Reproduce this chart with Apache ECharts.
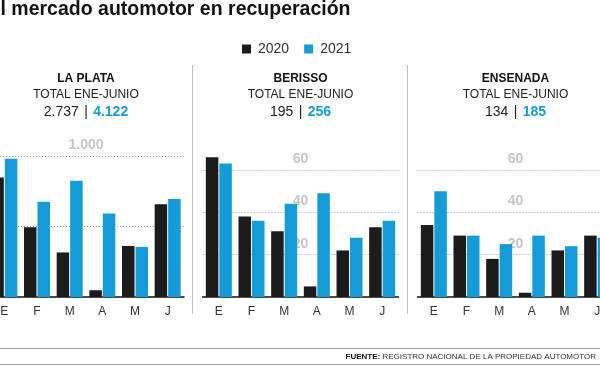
<!DOCTYPE html>
<html>
<head>
<meta charset="utf-8">
<script src="https://cdn.jsdelivr.net/npm/echarts@6/dist/echarts.min.js"></script>
<style>
html,body{margin:0;padding:0;background:#fff;}
#chart{width:600px;height:365px;}
</style>
</head>
<body>
<div id="chart"></div>
<script>
// ---- data ----
var months = ['E', 'F', 'M', 'A', 'M', 'J'];
var panelNames = ['LA PLATA', 'BERISSO', 'ENSENADA'];
var totals2020 = ['2.737', '195', '134'];
var totals2021 = ['4.122', '256', '185'];
var laPlata2020 = [848, 495, 316, 48, 362, 657];
var laPlata2021 = [981, 676, 824, 593, 355, 695];
var berisso2020 = [66, 38, 31, 5, 22, 33];
var berisso2021 = [63, 36, 44, 49, 28, 36];
var ensenada2020 = [34, 29, 18, 2, 22, 29];
var ensenada2021 = [50, 29, 25, 29, 24, 28];
var laPlataGridTicks = [500, 1000];
var laPlataTickLabels = {1000: '1.000'};
var smallGridTicks = [20, 40, 60];
var smallTickLabels = {20: '20', 40: '40', 60: '60'};
var seriesNames = ['2020', '2021'];
var titleText = 'El mercado automotor en recuperación';
var sourceLabel = 'FUENTE:';
var sourceText = ' REGISTRO NACIONAL DE LA PROPIEDAD AUTOMOTOR';

// ---- styles / layout ----
var C2020 = '#1c1c1c', C2021 = '#159bd8';
var FONT = '"Liberation Sans", Arial, sans-serif';
var gridLefts = [-12, 202.5, 417.5];
var GW = 196;
var BASE = 297;
var panels = [
  {d20: laPlata2020, d21: laPlata2021, max: 1000, interval: 500, top: 156, ticks: laPlataGridTicks, labels: laPlataTickLabels},
  {d20: berisso2020, d21: berisso2021, max: 70, interval: 20, top: 148.8, ticks: smallGridTicks, labels: smallTickLabels},
  {d20: ensenada2020, d21: ensenada2021, max: 70, interval: 20, top: 148.8, ticks: smallGridTicks, labels: smallTickLabels}
];

var grids = [], xAxes = [], yAxes = [], series = [], graphics = [];
panels.forEach(function (p, i) {
  grids.push({left: gridLefts[i], width: GW, top: p.top, height: BASE - p.top, containLabel: false, outerBoundsMode: 'none'});
  xAxes.push({
    type: 'category', gridIndex: i, data: months,
    axisLine: {lineStyle: {color: '#111', width: 1.5}},
    axisTick: {inside: true, length: 4, lineStyle: {color: '#111', width: 1}},
    axisLabel: {color: '#333', fontFamily: FONT, fontSize: 12, margin: 9}
  });
  yAxes.push({
    type: 'value', gridIndex: i, min: 0, max: p.max, interval: p.interval,
    offset: -GW / 2,
    axisLine: {show: false}, axisTick: {show: false},
    axisLabel: {
      margin: 0, align: 'center', verticalAlign: 'bottom', padding: [0, 0, 4, 0],
      color: '#c6c6c6', fontWeight: 'bold', fontSize: 14, fontFamily: FONT,
      showMaxLabel: p.max === 1000, showMinLabel: false,
      formatter: (function (lab) { return function (v) { return lab[v] || ''; }; })(p.labels)
    },
    splitLine: {
      show: true, showMinLine: false, showMaxLine: p.max === 1000,
      lineStyle: {color: '#9a9a9a', type: [1, 2], width: 1}
    }
  });
  series.push({
    name: seriesNames[0], type: 'bar', xAxisIndex: i, yAxisIndex: i, data: p.d20,
    barWidth: 12.5, barGap: '8%', itemStyle: {color: C2020}, z: 3
  });
  series.push({
    name: seriesNames[1], type: 'bar', xAxisIndex: i, yAxisIndex: i, data: p.d21,
    barWidth: 12.5, barGap: '8%', itemStyle: {color: C2021}, z: 3
  });
  var cx = gridLefts[i] + GW / 2;
  graphics.push({type: 'text', x: cx, y: 78.5, silent: true,
    style: {text: panelNames[i], align: 'center', verticalAlign: 'middle',
      font: 'bold 12px ' + FONT, fill: '#111'}});
  graphics.push({type: 'text', x: cx, y: 95, silent: true,
    style: {text: 'TOTAL ENE-JUNIO', align: 'center', verticalAlign: 'middle',
      font: '12px ' + FONT, fill: '#222'}});
  graphics.push({type: 'text', x: cx, y: 112, silent: true,
    style: {text: '{a|' + totals2020[i] + '} {s||} {b|' + totals2021[i] + '}', align: 'center', verticalAlign: 'middle',
      rich: {
        a: {font: '14px ' + FONT, fill: '#222'},
        s: {font: '14px ' + FONT, fill: '#222', padding: [0, 2]},
        b: {font: 'bold 14px ' + FONT, fill: C2021}
      }}});
});

// separators
[192.5, 407.5].forEach(function (x) {
  graphics.push({type: 'line', silent: true, shape: {x1: x, y1: 65, x2: x, y2: 314},
    style: {stroke: '#bdbdbd', lineWidth: 1}});
});
// bottom rules
[348.5, 364.5].forEach(function (y) {
  graphics.push({type: 'line', silent: true, shape: {x1: 0, y1: y, x2: 600, y2: y},
    style: {stroke: '#a0a0a0', lineWidth: 1}});
});
// source
graphics.push({type: 'text', x: 596, y: 356.5, silent: true,
  style: {text: '{b|' + sourceLabel + '}{n|' + sourceText + '}', align: 'right', verticalAlign: 'middle',
    rich: {b: {font: 'bold 8px ' + FONT, fill: '#111'}, n: {font: '8px ' + FONT, fill: '#333'}}}});
// title
graphics.push({type: 'text', x: -12.5, y: 10, silent: true,
  style: {text: titleText, align: 'left', verticalAlign: 'middle',
    font: 'bold 19.5px ' + FONT, fill: '#111'}});

var chart = echarts.init(document.getElementById('chart'), null, {renderer: 'canvas'});
chart.setOption({
  animation: false,
  backgroundColor: '#fff',
  legend: {
    left: 237, top: 37, itemWidth: 9, itemHeight: 9, itemGap: 15, icon: 'rect',
    data: seriesNames,
    textStyle: {fontFamily: FONT, fontSize: 14, color: '#333', padding: [0, 0, 0, 2]}
  },
  grid: grids, xAxis: xAxes, yAxis: yAxes, series: series,
  graphic: graphics
});
</script>
</body>
</html>
